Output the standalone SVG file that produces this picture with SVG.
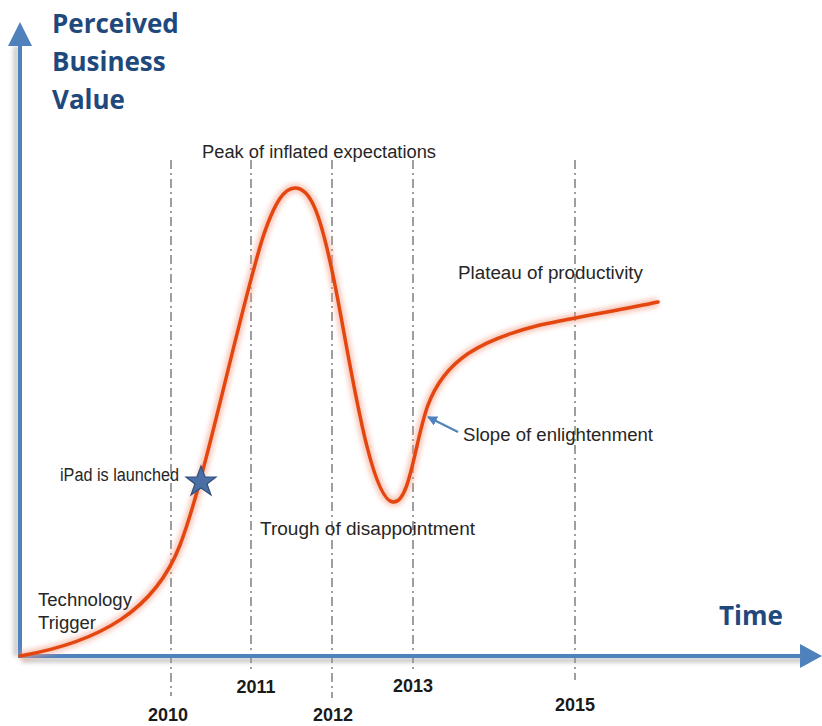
<svg xmlns="http://www.w3.org/2000/svg" width="822" height="726" viewBox="0 0 822 726">
  <defs>
    <filter id="soft" x="-20%" y="-20%" width="140%" height="140%">
      <feGaussianBlur stdDeviation="2.5"/>
    </filter>
    <filter id="shadow" x="-10%" y="-10%" width="120%" height="120%">
      <feGaussianBlur stdDeviation="2"/>
    </filter>
    <marker id="tip" viewBox="0 0 10 10" refX="9" refY="5" markerWidth="5" markerHeight="5" orient="auto">
      <path d="M0,0 L10,5 L0,10 z" fill="#4F81BD"/>
    </marker>
  </defs>
  <style>
    .guide { stroke: #7F7F7F; stroke-width: 1.5; stroke-dasharray: 9 4 2 4; fill: none; }
    .axis { stroke: #4F81BD; stroke-width: 4; fill: none; }
    .head { fill: #4F81BD; }
    .title { font-family: "Open Sans", "Liberation Sans", sans-serif; font-weight: bold; font-size: 26px; fill: #1F497D; }
    .label { font-family: "Liberation Sans", Arial, sans-serif; font-size: 18px; fill: #262626; }
    .year { font-family: "Liberation Sans", Arial, sans-serif; font-weight: bold; font-size: 18px; fill: #1A1A1A; text-anchor: middle; }
  </style>

  <rect width="822" height="726" fill="#FFFFFF"/>

  <!-- year guide lines -->
  <g id="guides">
    <line class="guide" x1="171" y1="160" x2="171" y2="696"/>
    <line class="guide" x1="251" y1="160" x2="251" y2="670"/>
    <line class="guide" x1="332" y1="160" x2="332" y2="698"/>
    <line class="guide" x1="413" y1="160" x2="413" y2="670"/>
    <line class="guide" x1="575" y1="160" x2="575" y2="680"/>
  </g>

  <!-- axes -->
  <g id="axes">
    <path d="M22,660 L808,660 M16,656 L16,46" stroke="#9A9A9A" stroke-width="5" fill="none" opacity="0.55" filter="url(#shadow)"/>
    <line class="axis" x1="20" y1="657" x2="20" y2="42"/>
    <polygon class="head" points="20,22 8,46 32,46"/>
    <line class="axis" x1="18" y1="656" x2="806" y2="656"/>
    <polygon class="head" points="822,656 800,644 800,668"/>
  </g>

  <!-- hype curve -->
  <g id="curve">
    <path d="M20,656 C100,642 155,610 180,545 C205,480 235,330 262,240 C275,200 285,188 295,188 C310,188 320,210 335,285 C350,360 370,500 393,502 C410,504 415,440 428,405 C445,360 480,340 540,325 C590,315 630,308 658,302" fill="none" stroke="#F2A08A" stroke-width="9" opacity="0.6" filter="url(#soft)"/>
    <path d="M20,656 C100,642 155,610 180,545 C205,480 235,330 262,240 C275,200 285,188 295,188 C310,188 320,210 335,285 C350,360 370,500 393,502 C410,504 415,440 428,405 C445,360 480,340 540,325 C590,315 630,308 658,302" fill="none" stroke="#E4460F" stroke-width="3.5" stroke-linecap="round"/>
  </g>

  <!-- milestone star -->
  <g id="ipad-star">
    <polygon points="201,466 205,477 216,477 207,484 211,495 201,488 191,495 195,484 186,477 197,477" fill="#4A6FA5" stroke="#2F4E7E" stroke-width="1.2"/>
  </g>

  <!-- slope pointer -->
  <g id="connectors">
    <line x1="458" y1="432" x2="428" y2="417" stroke="#4F81BD" stroke-width="2" marker-end="url(#tip)"/>
  </g>

  <!-- axis titles -->
  <g id="y-title">
    <text class="title" x="52" y="33">Perceived</text>
    <text class="title" x="52" y="71">Business</text>
    <text class="title" x="52" y="109">Value</text>
  </g>
  <g id="x-title">
    <text class="title" x="719" y="625">Time</text>
  </g>

  <!-- phase labels -->
  <g id="peak"><text class="label" x="202" y="158" textLength="234" lengthAdjust="spacingAndGlyphs">Peak of inflated expectations</text></g>
  <g id="plateau"><text class="label" x="458" y="279" textLength="185" lengthAdjust="spacingAndGlyphs">Plateau of productivity</text></g>
  <g id="slope"><text class="label" x="463" y="441" textLength="190" lengthAdjust="spacingAndGlyphs">Slope of enlightenment</text></g>
  <g id="trough"><text class="label" x="260" y="535" textLength="215" lengthAdjust="spacingAndGlyphs">Trough of disappointment</text></g>
  <g id="ipad"><text class="label" x="60" y="481" font-size="16" textLength="119" lengthAdjust="spacingAndGlyphs">iPad is launched</text></g>
  <g id="trigger">
    <text class="label" x="38" y="606" textLength="94" lengthAdjust="spacingAndGlyphs">Technology</text>
    <text class="label" x="38" y="629" textLength="58" lengthAdjust="spacingAndGlyphs">Trigger</text>
  </g>

  <!-- year labels -->
  <g id="years">
    <text class="year" x="168" y="721">2010</text>
    <text class="year" x="256" y="693">2011</text>
    <text class="year" x="333" y="721">2012</text>
    <text class="year" x="413" y="692">2013</text>
    <text class="year" x="575" y="711">2015</text>
  </g>
</svg>
